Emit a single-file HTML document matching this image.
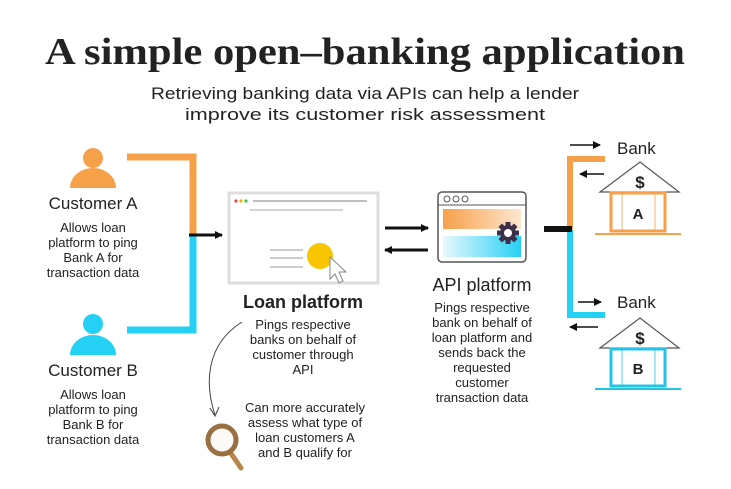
<!DOCTYPE html>
<html><head><meta charset="utf-8"><style>
html,body{margin:0;padding:0;background:#fff;}
svg{display:block;}
text{font-family:"Liberation Sans",sans-serif;fill:#222;}
.d{font-size:13px;text-anchor:middle;}
</style></head><body>
<svg width="731" height="489" viewBox="0 0 731 489" xmlns="http://www.w3.org/2000/svg">
<defs>
<linearGradient id="og" x1="0" x2="1"><stop offset="0" stop-color="#f7a04a"/><stop offset="1" stop-color="#fde6cf"/></linearGradient>
<linearGradient id="bg" x1="0" x2="1"><stop offset="0" stop-color="#e6f9fd"/><stop offset="1" stop-color="#25d0f5"/></linearGradient>
<marker id="ah" markerWidth="8" markerHeight="8" refX="7" refY="4" orient="auto" markerUnits="userSpaceOnUse"><path d="M0,0 L8,4 L0,8 z" fill="#111"/></marker>
</defs>
<text x="365" y="64" text-anchor="middle" font-family="Liberation Serif" style="font-family:'Liberation Serif',serif;font-weight:bold;font-size:38px" fill="#111" textLength="640" lengthAdjust="spacingAndGlyphs">A simple open–banking application</text>
<text x="365" y="99" text-anchor="middle" font-size="17" textLength="428" lengthAdjust="spacingAndGlyphs">Retrieving banking data via APIs can help a lender</text>
<text x="365" y="120" text-anchor="middle" font-size="17" textLength="360" lengthAdjust="spacingAndGlyphs">improve its customer risk assessment</text>

<!-- customers -->
<circle cx="93" cy="158" r="10" fill="#f7a04a"/>
<path d="M70,188 A23,20 0 0 1 116,188 z" fill="#f7a04a"/>
<text x="93" y="209" text-anchor="middle" font-size="17">Customer A</text>
<text class="d" x="93" y="232">Allows loan</text><text class="d" x="93" y="247">platform to ping</text><text class="d" x="93" y="262">Bank A for</text><text class="d" x="93" y="277">transaction data</text>
<circle cx="93" cy="324" r="10" fill="#25d0f5"/>
<path d="M70,355 A23,20 0 0 1 116,355 z" fill="#25d0f5"/>
<text x="93" y="376" text-anchor="middle" font-size="17">Customer B</text>
<text class="d" x="93" y="399">Allows loan</text><text class="d" x="93" y="414">platform to ping</text><text class="d" x="93" y="429">Bank B for</text><text class="d" x="93" y="444">transaction data</text>

<path d="M127,157 H193 V235" fill="none" stroke="#f7a04a" stroke-width="7"/>
<path d="M193,235 V330 H127" fill="none" stroke="#25d0f5" stroke-width="7"/>
<line x1="189" y1="235" x2="222" y2="235" stroke="#111" stroke-width="3" marker-end="url(#ah)"/>

<!-- loan platform -->
<rect x="229" y="193" width="149" height="90" fill="#fff" stroke="#e0dcdc" stroke-width="3"/>
<circle cx="236" cy="201" r="1.6" fill="#e74c3c"/><circle cx="241" cy="201" r="1.6" fill="#f5b400"/><circle cx="246" cy="201" r="1.6" fill="#2ecc40"/>
<line x1="253" y1="201" x2="367" y2="201" stroke="#aaa" stroke-width="1.5"/>
<line x1="250" y1="210" x2="343" y2="210" stroke="#aaa" stroke-width="1"/>
<line x1="270" y1="250" x2="303" y2="250" stroke="#999"/><line x1="270" y1="258" x2="303" y2="258" stroke="#999"/><line x1="270" y1="267" x2="303" y2="267" stroke="#999"/>
<circle cx="320" cy="256" r="13" fill="#f7c600"/>
<path d="M330,257 L330,279 L335,274 L339,283 L343,281 L339,272 L346,272 z" fill="#fff" stroke="#888" stroke-width="1"/>
<text x="303" y="308" text-anchor="middle" font-size="18" font-weight="bold" fill="#111">Loan platform</text>
<text class="d" x="303" y="329">Pings respective</text><text class="d" x="303" y="344">banks on behalf of</text><text class="d" x="303" y="359">customer through</text><text class="d" x="303" y="374">API</text>
<path d="M242,322 C205,345 205,385 215,415" fill="none" stroke="#444" stroke-width="1"/>
<path d="M210,408 L215,416 L219,407" fill="none" stroke="#444" stroke-width="1"/>
<text class="d" x="305" y="412">Can more accurately</text><text class="d" x="305" y="427">assess what type of</text><text class="d" x="305" y="442">loan customers A</text><text class="d" x="305" y="457">and B qualify for</text>
<line x1="230" y1="452" x2="241" y2="468" stroke="#b8864a" stroke-width="5" stroke-linecap="round"/>
<circle cx="222" cy="440" r="14" fill="#fbfaf7" stroke="#9a7040" stroke-width="5"/>

<!-- arrows between -->
<line x1="385" y1="228" x2="428" y2="228" stroke="#111" stroke-width="3" marker-end="url(#ah)"/>
<line x1="428" y1="250" x2="385" y2="250" stroke="#111" stroke-width="3" marker-end="url(#ah)"/>

<!-- API -->
<rect x="438" y="192" width="88" height="70" rx="4" fill="#fff" stroke="#555" stroke-width="1.5"/>
<line x1="438" y1="205" x2="526" y2="205" stroke="#555"/>
<circle cx="447" cy="199" r="3" fill="none" stroke="#555"/><circle cx="456" cy="199" r="3" fill="none" stroke="#555"/><circle cx="465" cy="199" r="3" fill="none" stroke="#555"/>
<rect x="443" y="209" width="78" height="20" fill="url(#og)"/>
<rect x="443" y="236" width="78" height="21" fill="url(#bg)"/>
<g transform="translate(508,233)" fill="#3d2f4a">
<circle r="8"/>
<rect x="-2.5" y="-11" width="5" height="22"/><rect x="-2.5" y="-11" width="5" height="22" transform="rotate(45)"/><rect x="-2.5" y="-11" width="5" height="22" transform="rotate(90)"/><rect x="-2.5" y="-11" width="5" height="22" transform="rotate(135)"/>
<circle r="4" fill="#fff"/>
</g>
<text x="482" y="291" text-anchor="middle" font-size="18">API platform</text>
<text class="d" x="482" y="312">Pings respective</text><text class="d" x="482" y="327">bank on behalf of</text><text class="d" x="482" y="342">loan platform and</text><text class="d" x="482" y="357">sends back the</text><text class="d" x="482" y="372">requested</text><text class="d" x="482" y="387">customer</text><text class="d" x="482" y="402">transaction data</text>

<!-- right connectors -->
<path d="M605,159 H570 V230" fill="none" stroke="#f7a04a" stroke-width="6"/>
<path d="M570,230 V315 H605" fill="none" stroke="#25d0f5" stroke-width="6"/>
<line x1="544" y1="229" x2="572" y2="229" stroke="#111" stroke-width="6"/>
<line x1="570" y1="145" x2="600" y2="145" stroke="#111" stroke-width="1.5" marker-end="url(#ah)"/>
<line x1="604" y1="174" x2="580" y2="174" stroke="#111" stroke-width="1.5" marker-end="url(#ah)"/>
<line x1="578" y1="302" x2="601" y2="302" stroke="#111" stroke-width="1.5" marker-end="url(#ah)"/>
<line x1="598" y1="327" x2="570" y2="327" stroke="#111" stroke-width="1.5" marker-end="url(#ah)"/>
<text x="617" y="154" font-size="17">Bank</text>
<text x="617" y="308" font-size="17">Bank</text>

<!-- bank A -->
<path d="M600,192 L640,162 L679,192 z" fill="#fff" stroke="#555" stroke-width="1.2"/>
<text x="640" y="188" text-anchor="middle" font-size="17" font-weight="bold" fill="#3a9a5b">$</text>
<rect x="611" y="193" width="54" height="38" fill="#fff" stroke="#f7a04a" stroke-width="3"/>
<line x1="622" y1="194" x2="622" y2="230" stroke="#f7a04a" stroke-width="0.8"/><line x1="655" y1="194" x2="655" y2="230" stroke="#f7a04a" stroke-width="0.8"/>
<line x1="595" y1="234" x2="681" y2="234" stroke="#f7a04a" stroke-width="2"/>
<text x="638" y="219" text-anchor="middle" font-size="15" font-weight="bold" fill="#111">A</text>
<!-- bank B -->
<path d="M600,348 L640,318 L679,348 z" fill="#fff" stroke="#555" stroke-width="1.2"/>
<text x="640" y="344" text-anchor="middle" font-size="17" font-weight="bold" fill="#3a9a5b">$</text>
<rect x="611" y="349" width="54" height="37" fill="#fff" stroke="#25c3e8" stroke-width="3"/>
<line x1="622" y1="350" x2="622" y2="385" stroke="#25c3e8" stroke-width="0.8"/><line x1="655" y1="350" x2="655" y2="385" stroke="#25c3e8" stroke-width="0.8"/>
<line x1="595" y1="389" x2="681" y2="389" stroke="#25c3e8" stroke-width="2"/>
<text x="638" y="374" text-anchor="middle" font-size="15" font-weight="bold" fill="#111">B</text>
</svg>
</body></html>
